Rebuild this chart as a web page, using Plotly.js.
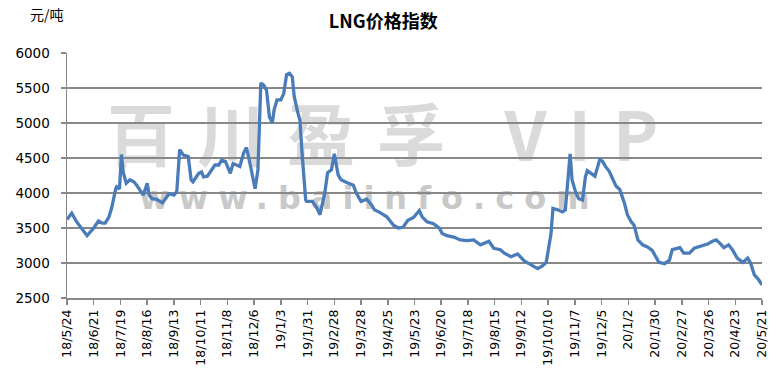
<!DOCTYPE html>
<html><head><meta charset="utf-8">
<script src="https://cdn.plot.ly/plotly-3.0.1.min.js"></script>
<style>html,body{margin:0;padding:0;background:#fff}#c{width:779px;height:381px}</style>
</head><body><div id="c"></div>
<script>
const dates = ["2018-05-24","2018-05-29","2018-06-03","2018-06-14","2018-06-21","2018-06-26","2018-06-30","2018-07-03","2018-07-07","2018-07-10","2018-07-14","2018-07-15","2018-07-18","2018-07-20","2018-07-22","2018-07-25","2018-07-29","2018-08-02","2018-08-05","2018-08-09","2018-08-12","2018-08-16","2018-08-18","2018-08-21","2018-08-26","2018-09-01","2018-09-04","2018-09-08","2018-09-13","2018-09-16","2018-09-19","2018-09-23","2018-09-28","2018-10-01","2018-10-03","2018-10-09","2018-10-12","2018-10-14","2018-10-18","2018-10-23","2018-10-26","2018-10-30","2018-11-02","2018-11-06","2018-11-11","2018-11-14","2018-11-18","2018-11-21","2018-11-25","2018-11-28","2018-12-02","2018-12-04","2018-12-07","2018-12-10","2018-12-13","2018-12-16","2018-12-19","2018-12-22","2018-12-25","2018-12-27","2018-12-30","2019-01-03","2019-01-06","2019-01-09","2019-01-12","2019-01-15","2019-01-17","2019-01-20","2019-01-23","2019-01-25","2019-01-29","2019-01-30","2019-02-05","2019-02-10","2019-02-13","2019-02-18","2019-02-21","2019-02-25","2019-02-28","2019-03-04","2019-03-07","2019-03-13","2019-03-20","2019-03-23","2019-03-28","2019-04-03","2019-04-08","2019-04-11","2019-04-17","2019-04-24","2019-05-01","2019-05-06","2019-05-11","2019-05-16","2019-05-22","2019-05-28","2019-05-31","2019-06-05","2019-06-12","2019-06-18","2019-06-21","2019-06-26","2019-07-03","2019-07-10","2019-07-17","2019-07-24","2019-07-31","2019-08-09","2019-08-14","2019-08-21","2019-08-25","2019-09-01","2019-09-08","2019-09-15","2019-09-22","2019-09-29","2019-10-04","2019-10-08","2019-10-13","2019-10-15","2019-10-20","2019-10-25","2019-10-28","2019-10-30","2019-11-02","2019-11-04","2019-11-08","2019-11-11","2019-11-15","2019-11-18","2019-11-20","2019-11-24","2019-11-28","2019-12-01","2019-12-03","2019-12-06","2019-12-09","2019-12-13","2019-12-16","2019-12-20","2019-12-24","2019-12-29","2020-01-01","2020-01-05","2020-01-08","2020-01-12","2020-01-17","2020-01-22","2020-01-27","2020-01-31","2020-02-03","2020-02-09","2020-02-14","2020-02-17","2020-02-21","2020-02-25","2020-02-29","2020-03-06","2020-03-11","2020-03-18","2020-03-25","2020-03-30","2020-04-03","2020-04-07","2020-04-11","2020-04-16","2020-04-20","2020-04-25","2020-05-01","2020-05-06","2020-05-09","2020-05-13","2020-05-17","2020-05-21"];
const prices = [3620,3710,3590,3390,3500,3600,3570,3570,3660,3800,4060,4090,4060,4550,4290,4140,4190,4160,4110,4020,3970,4140,3970,3920,3910,3860,3920,3990,3970,4020,4620,4540,4520,4190,4160,4280,4300,4230,4240,4350,4400,4400,4470,4450,4280,4420,4400,4380,4570,4650,4400,4280,4060,4330,5570,5540,5470,5090,5000,5190,5330,5330,5420,5690,5710,5660,5380,5190,5040,4610,3900,3880,3880,3780,3690,4000,4290,4330,4560,4260,4190,4150,4110,4000,3880,3910,3830,3760,3720,3660,3540,3500,3510,3610,3650,3750,3660,3590,3560,3500,3420,3390,3370,3330,3320,3330,3260,3310,3210,3190,3140,3090,3130,3030,2970,2920,2960,3010,3420,3780,3760,3730,3760,4140,4560,4190,4000,3920,3900,4230,4320,4280,4240,4380,4480,4450,4380,4310,4210,4100,4050,3850,3690,3590,3540,3330,3260,3230,3180,3090,3010,2990,3040,3190,3210,3220,3140,3140,3210,3240,3270,3310,3330,3280,3220,3260,3190,3070,3010,3070,3000,2830,2770,2690];
const tickDates = ["2018-05-24","2018-06-21","2018-07-19","2018-08-16","2018-09-13","2018-10-11","2018-11-08","2018-12-06","2019-01-03","2019-01-31","2019-02-28","2019-03-28","2019-04-25","2019-05-23","2019-06-20","2019-07-18","2019-08-15","2019-09-12","2019-10-10","2019-11-07","2019-12-05","2020-01-02","2020-01-30","2020-02-27","2020-03-26","2020-04-23","2020-05-21"];
const tickLabels = ["18/5/24","18/6/21","18/7/19","18/8/16","18/9/13","18/10/11","18/11/8","18/12/6","19/1/3","19/1/31","19/2/28","19/3/28","19/4/25","19/5/23","19/6/20","19/7/18","19/8/15","19/9/12","19/10/10","19/11/7","19/12/5","20/1/2","20/1/30","20/2/27","20/3/26","20/4/23","20/5/21"];
const yTicks = [2500,3000,3500,4000,4500,5000,5500,6000];

const gridC = '#888888';
const font = 'DejaVu Sans, Verdana, sans-serif';
const trace = {x: dates, y: prices, type: 'scatter', mode: 'lines',
  line: {color: '#4a7cba', width: 3.3}, hoverinfo: 'skip'};
const layout = {
  width: 779, height: 381,
  margin: {l: 67, r: 17, t: 53, b: 83},
  paper_bgcolor: '#fff', plot_bgcolor: '#fff', showlegend: false,
  title: {text: '<b>LNG价格指数</b>', x: 0.492, xanchor: 'center', y: 0.942, yanchor: 'middle',
    font: {family: 'Noto Sans CJK SC, sans-serif', size: 18, color: '#000'}},
  xaxis: {type: 'date', range: ['2018-05-24', '2020-05-21'], tickmode: 'array',
    tickvals: tickDates, ticktext: tickLabels, tickangle: -90,
    ticks: 'outside', ticklen: 5, tickwidth: 1.5, tickcolor: gridC,
    showline: true, linecolor: gridC, linewidth: 1.5, showgrid: false, zeroline: false,
    tickfont: {family: font, size: 12.5, color: '#000'}},
  yaxis: {range: [2500, 6000], tickmode: 'array', tickvals: yTicks,
    ticks: 'outside', ticklen: 5, tickwidth: 1.5, tickcolor: gridC,
    showline: true, linecolor: gridC, linewidth: 1.5,
    showgrid: true, gridcolor: gridC, gridwidth: 1.5, zeroline: false,
    ticklabelstandoff: 8,
    tickfont: {family: font, size: 13.5, color: '#000'}},
  shapes: [
    {type: 'rect', xref: 'paper', yref: 'paper', x0: -0.01, x1: 0.95, y0: 0.46, y1: 0.81,
      layer: 'below', line: {width: 0}, fillcolor: 'rgba(0,0,0,0)',
      label: {text: '<b><span style="letter-spacing:22px">百川盈孚 VIP</span></b>', textposition: 'middle center',
        font: {family: 'Noto Sans CJK SC, sans-serif', size: 68, color: '#dadada'}}},
    {type: 'rect', xref: 'paper', yref: 'paper', x0: 0.1, x1: 0.77, y0: 0.35, y1: 0.48,
      layer: 'below', line: {width: 0}, fillcolor: 'rgba(0,0,0,0)',
      label: {text: '<b><span style="letter-spacing:10px">www.baiinfo.com</span></b>', textposition: 'middle center',
        font: {family: 'DejaVu Sans, sans-serif', size: 32, color: '#c9c9c9'}}}
  ],
  annotations: [
    {text: '元/吨', xref: 'paper', yref: 'paper', x: -0.056, y: 1.159, xanchor: 'left', yanchor: 'middle',
      showarrow: false, font: {family: 'Noto Sans CJK SC, sans-serif', size: 14, color: '#000'}}
  ]
};
Plotly.newPlot('c', [trace], layout, {staticPlot: true, displayModeBar: false});
</script></body></html>
